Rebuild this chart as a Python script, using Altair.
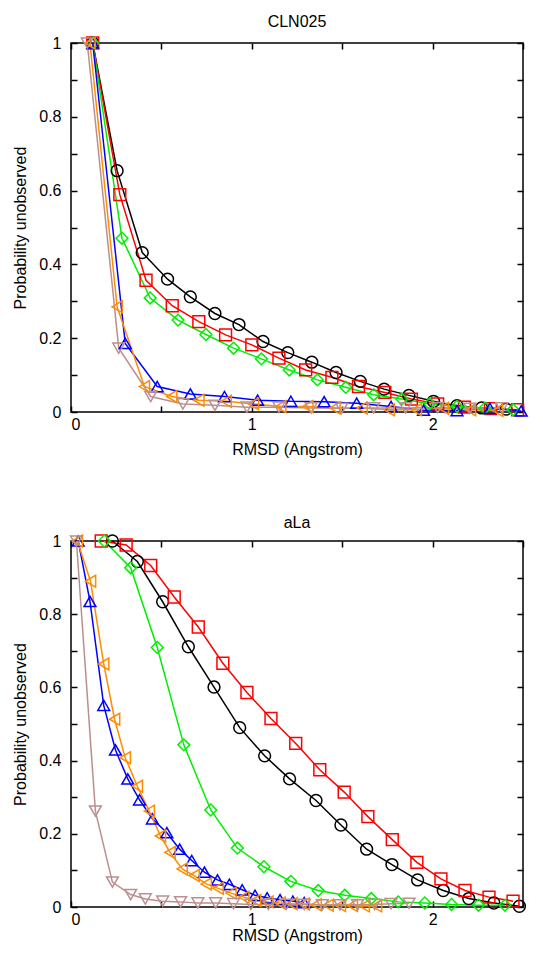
import altair as alt
import pandas as pd

FONT = "Liberation Sans"

series_names = ["s1", "s2", "s3", "s4", "s5", "s6"]
series_colors = ["#000000", "#ff0000", "#00ee00", "#0000ff", "#ff8c00", "#bc8f8f"]
series_shapes = ["circle", "square", "diamond", "triangle-up", "triangle-left", "triangle-down"]

x_tick_values = [0, 0.5, 1, 1.5, 2, 2.5]
y_tick_values = [0, 0.1, 0.2, 0.3, 0.4, 0.5, 0.6, 0.7, 0.8, 0.9, 1.0]

# ---- CLN025 panel ----
cln_black_x = [0.12, 0.255, 0.394, 0.534, 0.66, 0.796, 0.929, 1.062, 1.199, 1.332, 1.466, 1.6, 1.732, 1.869, 2.005, 2.135, 2.271, 2.406]
cln_black_y = [1.0, 0.654, 0.432, 0.36, 0.312, 0.267, 0.237, 0.191, 0.161, 0.135, 0.107, 0.083, 0.062, 0.045, 0.029, 0.017, 0.011, 0.008]
cln_red_x = [0.12, 0.27, 0.415, 0.56, 0.707, 0.855, 1.0, 1.15, 1.298, 1.443, 1.59, 1.736, 1.883, 2.028, 2.176, 2.32, 2.47]
cln_red_y = [1.0, 0.589, 0.357, 0.288, 0.245, 0.209, 0.182, 0.146, 0.114, 0.094, 0.069, 0.053, 0.035, 0.022, 0.013, 0.009, 0.006]
cln_green_x = [0.12, 0.282, 0.438, 0.592, 0.746, 0.899, 1.053, 1.207, 1.363, 1.52, 1.674, 1.83, 1.984, 2.135, 2.29, 2.445]
cln_green_y = [1.0, 0.471, 0.309, 0.249, 0.21, 0.173, 0.144, 0.114, 0.087, 0.067, 0.047, 0.035, 0.022, 0.015, 0.011, 0.006]
cln_blue_x = [0.12, 0.3, 0.477, 0.66, 0.849, 1.032, 1.216, 1.4, 1.58, 1.77, 1.95, 2.135, 2.317, 2.49]
cln_blue_y = [1.0, 0.186, 0.069, 0.049, 0.042, 0.032, 0.029, 0.028, 0.024, 0.015, 0.005, 0.004, 0.01, 0.003]
cln_orange_x = [0.105, 0.255, 0.406, 0.557, 0.707, 0.858, 1.009, 1.16, 1.31, 1.46, 1.61, 1.76, 1.91, 2.06, 2.21, 2.36]
cln_orange_y = [1.0, 0.285, 0.069, 0.042, 0.032, 0.029, 0.022, 0.015, 0.015, 0.011, 0.011, 0.006, 0.006, 0.01, 0.006, 0.004]
cln_tan_x = [0.09, 0.264, 0.441, 0.619, 0.796, 0.973, 1.15, 1.328, 1.497, 1.674, 1.85, 2.028, 2.205, 2.383]
cln_tan_y = [1.0, 0.173, 0.042, 0.022, 0.018, 0.013, 0.013, 0.011, 0.01, 0.011, 0.011, 0.012, 0.01, 0.011]

# ---- aLa panel ----
ala_black_x = [0.229, 0.367, 0.507, 0.649, 0.791, 0.933, 1.071, 1.209, 1.355, 1.493, 1.635, 1.775, 1.917, 2.059, 2.2, 2.339, 2.48]
ala_black_y = [1.0, 0.944, 0.834, 0.711, 0.601, 0.49, 0.413, 0.35, 0.291, 0.224, 0.158, 0.116, 0.074, 0.045, 0.023, 0.011, 0.002]
ala_red_x = [0.167, 0.305, 0.441, 0.571, 0.704, 0.84, 0.973, 1.106, 1.243, 1.376, 1.511, 1.642, 1.777, 1.913, 2.046, 2.179, 2.312, 2.445]
ala_red_y = [1.0, 0.989, 0.933, 0.847, 0.765, 0.666, 0.586, 0.515, 0.447, 0.375, 0.314, 0.247, 0.184, 0.122, 0.077, 0.045, 0.027, 0.016]
ala_green_x = [0.184, 0.33, 0.477, 0.624, 0.773, 0.92, 1.067, 1.216, 1.367, 1.514, 1.661, 1.81, 1.957, 2.105, 2.254, 2.4]
ala_green_y = [1.0, 0.927, 0.709, 0.443, 0.265, 0.161, 0.11, 0.07, 0.045, 0.032, 0.023, 0.014, 0.011, 0.007, 0.005, 0.005]
ala_blue_x = [0.04, 0.105, 0.181, 0.246, 0.314, 0.379, 0.45, 0.53, 0.601, 0.668, 0.738, 0.81, 0.876, 0.947, 1.018, 1.085, 1.156, 1.227, 1.29]
ala_blue_y = [1.0, 0.835, 0.551, 0.429, 0.35, 0.293, 0.241, 0.203, 0.158, 0.127, 0.095, 0.074, 0.062, 0.047, 0.032, 0.025, 0.02, 0.016, 0.012]
ala_orange_x = [0.035, 0.108, 0.181, 0.241, 0.3, 0.367, 0.433, 0.495, 0.548, 0.615, 0.681, 0.748, 0.814, 0.885, 0.956, 1.021, 1.089, 1.156, 1.222, 1.29, 1.356, 1.422, 1.49, 1.556, 1.622, 1.69]
ala_orange_y = [1.0, 0.89, 0.664, 0.513, 0.408, 0.33, 0.262, 0.194, 0.149, 0.104, 0.086, 0.063, 0.051, 0.038, 0.027, 0.018, 0.014, 0.011, 0.009, 0.008, 0.006, 0.005, 0.004, 0.004, 0.003, 0.003]
ala_tan_x = [0.03, 0.135, 0.229, 0.33, 0.411, 0.507, 0.606, 0.702, 0.8, 0.899, 0.995, 1.092, 1.19, 1.29, 1.39, 1.487, 1.585, 1.68, 1.77, 1.87]
ala_tan_y = [1.0, 0.262, 0.068, 0.034, 0.022, 0.016, 0.014, 0.011, 0.011, 0.009, 0.007, 0.007, 0.007, 0.007, 0.006, 0.006, 0.006, 0.007, 0.009, 0.01]

cln_series = [(cln_black_x, cln_black_y), (cln_red_x, cln_red_y), (cln_green_x, cln_green_y),
              (cln_blue_x, cln_blue_y), (cln_orange_x, cln_orange_y), (cln_tan_x, cln_tan_y)]
ala_series = [(ala_black_x, ala_black_y), (ala_red_x, ala_red_y), (ala_green_x, ala_green_y),
              (ala_blue_x, ala_blue_y), (ala_orange_x, ala_orange_y), (ala_tan_x, ala_tan_y)]

TICK = 6

common_axis = dict(
    domain=False, grid=False, tickSize=TICK, offset=-TICK, tickColor="black", tickWidth=1.5,
    labelFont=FONT, labelFontSize=16, labelColor="black", format="~g",
    titleFont=FONT, titleFontSize=16, titleFontWeight="normal", titleColor="black",
    minExtent=0,
)


def panel(title, series, x_title_pad, title_offset, height):
    rows = []
    for name, (xs, ys) in zip(series_names, series):
        for i, (xv, yv) in enumerate(zip(xs, ys)):
            rows.append({"series": name, "x": xv, "y": yv, "i": i})
    df = pd.DataFrame(rows)

    xscale = alt.Scale(domain=[0, 2.5], nice=False, zero=False)
    yscale = alt.Scale(domain=[0, 1], nice=False, zero=False)
    color = alt.Color("series:N", scale=alt.Scale(domain=series_names, range=series_colors), legend=None)
    shape = alt.Shape("series:N", scale=alt.Scale(domain=series_names, range=series_shapes), legend=None)

    x_bottom = alt.Axis(orient="bottom", values=x_tick_values,
                        labelExpr="datum.value % 1 == 0 ? datum.label : ''",
                        title="RMSD (Angstrom)", labelPadding=4, titlePadding=x_title_pad, **common_axis)
    y_left = alt.Axis(orient="left", values=y_tick_values,
                      labelExpr="round(datum.value * 10) % 2 == 0 ? datum.label : ''",
                      title="Probability unobserved", labelPadding=10, titlePadding=10, **common_axis)
    x_top = alt.Axis(orient="top", values=x_tick_values, labels=False, title=None, maxExtent=0, **common_axis)
    y_right = alt.Axis(orient="right", values=y_tick_values, labels=False, title=None, maxExtent=0, **common_axis)

    base = alt.Chart(df)
    lines = base.mark_line(strokeWidth=1.5).encode(
        x=alt.X("x:Q", scale=xscale, axis=x_bottom),
        y=alt.Y("y:Q", scale=yscale, axis=y_left),
        color=color,
        order="i:Q",
    )
    points = base.mark_point(filled=False, size=140, strokeWidth=1.5, opacity=1).encode(
        x=alt.X("x:Q", scale=xscale, axis=x_top),
        y=alt.Y("y:Q", scale=yscale, axis=y_right),
        color=color,
        shape=shape,
    )
    return alt.layer(lines, points).resolve_axis(x="independent", y="independent").properties(
        width=452, height=height,
        title=alt.TitleParams(text=title, font=FONT, fontSize=16, fontWeight="normal",
                              color="black", anchor="middle", offset=title_offset),
    )


chart = alt.vconcat(panel("CLN025", cln_series, 9, 4, 369), panel("aLa", ala_series, 0, 1, 366), spacing=56).properties(
    padding={"left": 4, "top": 5, "right": 0, "bottom": 0}
).configure_view(stroke="black", strokeWidth=1.5)

chart.save("out.html", embed_options={"renderer": "svg", "actions": False})
